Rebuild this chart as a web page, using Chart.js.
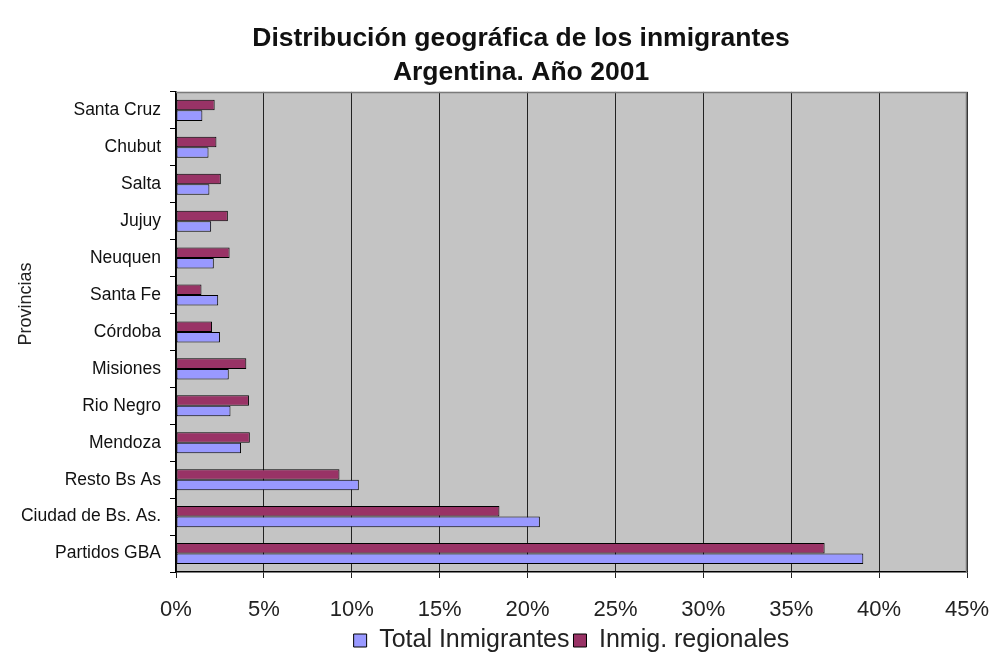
<!DOCTYPE html>
<html>
<head>
<meta charset="utf-8">
<script src="https://cdn.jsdelivr.net/npm/chart.js@4.4.1/dist/chart.umd.min.js"></script>
<style>
  html, body { margin: 0; padding: 0; background: #ffffff; }
  #wrap { width: 994px; height: 657px; position: relative; }
</style>
</head>
<body>
<div id="wrap"><canvas id="c" width="994" height="657"></canvas></div>
<script>
// Categories listed top to bottom as they appear in the chart
const provincias = ['Santa Cruz', 'Chubut', 'Salta', 'Jujuy', 'Neuquen', 'Santa Fe', 'Córdoba', 'Misiones', 'Rio Negro', 'Mendoza', 'Resto Bs As', 'Ciudad de Bs. As.', 'Partidos GBA'];
// Percent of immigrants per province
const totalInmigrantes = [1.5, 1.85, 1.9, 2.0, 2.15, 2.4, 2.5, 3.0, 3.1, 3.7, 10.4, 20.7, 39.1];
const inmigRegionales = [2.2, 2.3, 2.55, 2.95, 3.05, 1.45, 2.05, 4.0, 4.15, 4.2, 9.3, 18.4, 36.9];
const xTicks = [0, 5, 10, 15, 20, 25, 30, 35, 40, 45];
const titleLines = ['Distribución geográfica de los inmigrantes', 'Argentina. Año 2001'];

const plotBg = {
  id: 'plotBg',
  afterLayout(chart) {
    // centre the chart title where the reference has it
    if (chart.titleBlock) { chart.titleBlock.left = 75; chart.titleBlock.right = 967; }
    // the axis title sits a little above the plot's middle in the reference
    const s = chart.scales.y;
    if (s && !s._titleShifted) {
      const orig = s.drawTitle;
      s.drawTitle = function () {
        const b = this.bottom;
        this.bottom = b - 56;
        orig.call(this);
        this.bottom = b;
      };
      s._titleShifted = true;
    }
  },
  beforeDraw(chart) {
    const { ctx, chartArea: a } = chart;
    ctx.save();
    ctx.fillStyle = '#c4c4c4';
    ctx.fillRect(a.left, a.top, a.right - a.left, a.bottom - a.top);
    ctx.restore();
  },
  afterDatasetsDraw(chart) {
    const { ctx, chartArea: a } = chart;
    ctx.save();
    ctx.strokeStyle = '#7a7a7a';
    ctx.lineWidth = 1.5;
    ctx.beginPath();
    ctx.moveTo(a.left, a.top + 0.5);
    ctx.lineTo(a.right - 0.5, a.top + 0.5);
    ctx.lineTo(a.right - 0.5, a.bottom);
    ctx.stroke();
    ctx.restore();
  }
};

const FONT = "'Liberation Sans', Arial, sans-serif";

new Chart(document.getElementById('c'), {
  type: 'bar',
  data: {
    labels: provincias,
    datasets: [
      {
        label: 'Inmig. regionales',
        data: inmigRegionales,
        backgroundColor: '#993366',
        borderColor: '#000000',
        borderWidth: 1,
        borderSkipped: false,
        categoryPercentage: 0.57,
        barPercentage: 1.0
      },
      {
        label: 'Total Inmigrantes',
        data: totalInmigrantes,
        backgroundColor: '#9999ff',
        borderColor: '#000000',
        borderWidth: 1,
        borderSkipped: false,
        categoryPercentage: 0.57,
        barPercentage: 1.0
      }
    ]
  },
  options: {
    indexAxis: 'y',
    responsive: false,
    animation: false,
    devicePixelRatio: 1,
    layout: { padding: { left: 8, right: 27, top: 0, bottom: -6 } },
    scales: {
      x: {
        min: 0,
        max: 45,
        afterBuildTicks(scale) { scale.ticks = xTicks.map(v => ({ value: v })); },
        afterFit(scale) { scale.height = 52; scale.paddingLeft = 0; scale.paddingRight = 0; },
        ticks: {
          callback: v => v + '%',
          font: { family: FONT, size: 22 },
          color: '#222222',
          padding: 19,
          maxRotation: 0
        },
        grid: {
          color: '#222222',
          lineWidth: 1,
          drawTicks: true,
          tickLength: 6
        },
        border: { color: '#000000', width: 1.5 }
      },
      y: {
        afterFit(scale) { scale.width = 168; },
        ticks: {
          font: { family: FONT, size: 17.5 },
          color: '#111111',
          padding: 9
        },
        grid: {
          drawOnChartArea: false,
          drawTicks: true,
          tickLength: 6,
          offset: true,
          color: '#000000'
        },
        border: { color: '#000000', width: 1.5 },
        title: {
          display: true,
          text: 'Provincias',
          font: { family: FONT, size: 18 },
          color: '#222222',
          padding: { top: 7, bottom: 0 }
        }
      }
    },
    plugins: {
      title: {
        display: true,
        text: titleLines,
        font: { family: FONT, size: 26.5, weight: 'bold', lineHeight: 1.3 },
        color: '#111111',
        padding: { top: 21, bottom: 2 }
      },
      legend: {
        position: 'bottom',
        fullSize: false,
        labels: {
          font: { family: FONT, size: 25 },
          color: '#222222',
          boxWidth: 13,
          boxHeight: 13,
          padding: 4,
          sort: (a, b) => b.datasetIndex - a.datasetIndex
        }
      },
      tooltip: { enabled: false }
    }
  },
  plugins: [plotBg]
});
</script>
</body>
</html>
